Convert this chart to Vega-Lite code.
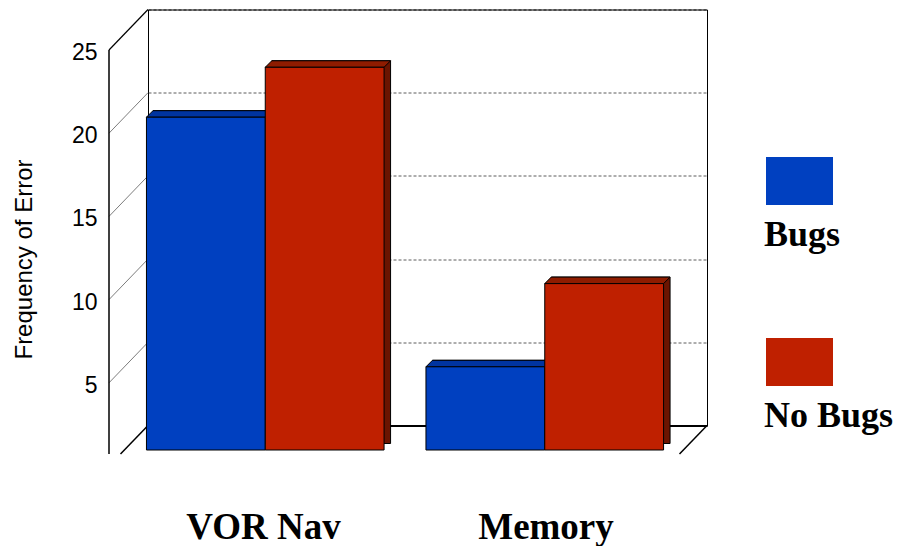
{
  "$schema": "https://vega.github.io/schema/vega-lite/v6.json",
  "width": 559,
  "height": 416,
  "autosize": "none",
  "padding": {"left": 148, "top": 9.5, "right": 200, "bottom": 120.5},
  "background": "white",
  "datasets": {
    "errors": [
      {"task": "VOR Nav", "group": "Bugs", "frequency": 20},
      {"task": "VOR Nav", "group": "No Bugs", "frequency": 23},
      {"task": "Memory", "group": "Bugs", "frequency": 5},
      {"task": "Memory", "group": "No Bugs", "frequency": 10}
    ],
    "levels": [
      {"level": 5},
      {"level": 10},
      {"level": 15},
      {"level": 20},
      {"level": 25}
    ]
  },
  "config": {
    "view": {"stroke": "#000", "strokeWidth": 1}
  },
  "resolve": {
    "scale": {"x": "independent"},
    "axis": {"x": "independent", "y": "independent"}
  },
  "layer": [
    {
      "layer": [
        {
          "data": {"name": "levels"},
          "mark": {"type": "rule", "x2Offset": -39, "y2Offset": 40.5},
          "encoding": {
            "x": {"datum": 0, "type": "quantitative", "scale": {"domain": [0, 1], "nice": false, "zero": false}, "axis": null},
            "x2": {"datum": 0},
            "y": {"field": "level", "type": "quantitative", "scale": {"domain": [0, 25], "nice": false}, "axis": null},
            "y2": {"field": "level"},
            "color": {"condition": {"test": "datum.level === 25", "value": "#000"}, "value": "#444"},
            "strokeWidth": {"condition": {"test": "datum.level === 25", "value": 1.2}, "value": 0.7}
          }
        },
        {
          "data": {"values": [{}]},
          "mark": {"type": "rule", "color": "#000", "strokeWidth": 1.5, "x2Offset": -27.5, "y2Offset": 28.5},
          "encoding": {
            "x": {"datum": 0, "type": "quantitative", "axis": null},
            "x2": {"datum": 0},
            "y": {"datum": 0, "type": "quantitative", "axis": null},
            "y2": {"datum": 0}
          }
        },
        {
          "data": {"values": [{}]},
          "mark": {"type": "rule", "color": "#000", "strokeWidth": 1.5, "x2Offset": -27.5, "y2Offset": 28.5},
          "encoding": {
            "x": {"datum": 1, "type": "quantitative", "axis": null},
            "x2": {"datum": 1},
            "y": {"datum": 0, "type": "quantitative", "axis": null},
            "y2": {"datum": 0}
          }
        },
        {
          "data": {"values": [{}]},
          "mark": {"type": "rule", "color": "#000", "strokeWidth": 1.5, "xOffset": -39, "yOffset": 40.5, "y2Offset": 28.5},
          "encoding": {
            "x": {"datum": 0, "type": "quantitative", "axis": null},
            "y": {"datum": 25, "type": "quantitative", "axis": null},
            "y2": {"datum": 0}
          }
        }
      ]
    },
    {
      "data": {"name": "errors"},
      "resolve": {"scale": {"xOffset": "independent"}},
      "encoding": {
        "x": {
          "field": "task",
          "type": "nominal",
          "sort": ["VOR Nav", "Memory"],
          "scale": {"paddingInner": 0.15, "paddingOuter": 0.075},
          "axis": {
            "orient": "bottom",
            "title": null,
            "ticks": false,
            "grid": false,
            "domain": true,
            "domainColor": "#000",
            "domainWidth": 2,
            "labelAngle": 0,
            "labelFont": "Liberation Serif",
            "labelFontWeight": "bold",
            "labelFontSize": 37,
            "labelColor": "#000",
            "labelBaseline": "alphabetic",
            "labelLimit": 400,
            "labelPadding": 112.5,
            "labelOffset": {"condition": {"test": "datum.value === 'Memory'", "value": -21.25}, "value": -24.25}
          }
        },
        "y": {
          "field": "frequency",
          "type": "quantitative",
          "scale": {"domain": [0, 25], "nice": false},
          "axis": {
            "orient": "left",
            "values": [5, 10, 15, 20, 25],
            "grid": true,
            "gridDash": [3, 2],
            "gridColor": {"condition": {"test": "datum.value === 25", "value": "#000"}, "value": "#333"},
            "gridWidth": 0.8,
            "ticks": false,
            "domain": false,
            "labelFont": "Liberation Sans",
            "labelFontSize": 23,
            "labelColor": "#000",
            "labelPadding": 51,
            "labelOffset": 43,
            "title": "Frequency of Error",
            "titleFont": "Liberation Sans",
            "titleFontSize": 24,
            "titleFontWeight": "normal",
            "titleColor": "#000",
            "titleAngle": 270,
            "titleAlign": "center",
            "titleBaseline": "bottom",
            "titleX": -112,
            "titleY": 249.5
          }
        }
      },
      "layer": [
        {
          "mark": {"type": "bar", "yOffset": 18, "y2Offset": 18, "stroke": "#000", "strokeWidth": 1, "opacity": 1},
          "encoding": {
            "xOffset": {"field": "group", "type": "nominal", "sort": ["Bugs", "No Bugs"], "scale": {"range": [-16, 221.6]}},
            "fill": {"condition": {"test": "datum.group === 'Bugs'", "value": "#002B85"}, "value": "#6B1400"}
          }
        },
        {
          "mark": {
            "type": "point",
            "shape": "M -59.4 0 L 59.4 0 L 65.9 -6.5 L -52.9 -6.5 Z",
            "size": 4,
            "filled": true,
            "opacity": 1,
            "stroke": "#000",
            "strokeWidth": 1,
            "yOffset": 24.5
          },
          "encoding": {
            "xOffset": {"field": "group", "type": "nominal", "sort": ["Bugs", "No Bugs"], "scale": {"range": [-22.5, 215.1]}},
            "fill": {"condition": {"test": "datum.group === 'Bugs'", "value": "#0034A0"}, "value": "#8F1C00"}
          }
        },
        {
          "mark": {"type": "bar", "yOffset": 24.5, "y2Offset": 24.5, "stroke": "#000", "strokeWidth": 1, "opacity": 1},
          "encoding": {
            "xOffset": {"field": "group", "type": "nominal", "sort": ["Bugs", "No Bugs"], "scale": {"range": [-22.5, 215.1]}},
            "color": {
              "field": "group",
              "type": "nominal",
              "scale": {"domain": ["Bugs", "No Bugs"], "range": ["#0040C0", "#BF2000"]},
              "legend": {
                "title": null,
                "orient": "none",
                "legendX": 616,
                "legendY": 218.5,
                "direction": "vertical",
                "symbolType": "M -16 -89 L 51 -89 L 51 -41 L -16 -41 Z",
                "symbolSize": 4,
                "symbolStrokeWidth": 0,
                "symbolOpacity": 1,
                "labelFont": "Liberation Serif",
                "labelFontWeight": "bold",
                "labelFontSize": 36,
                "labelColor": "#000",
                "labelOffset": -36,
                "labelBaseline": "alphabetic",
                "labelLimit": 0,
                "rowPadding": 85
              }
            }
          }
        }
      ]
    }
  ]
}
